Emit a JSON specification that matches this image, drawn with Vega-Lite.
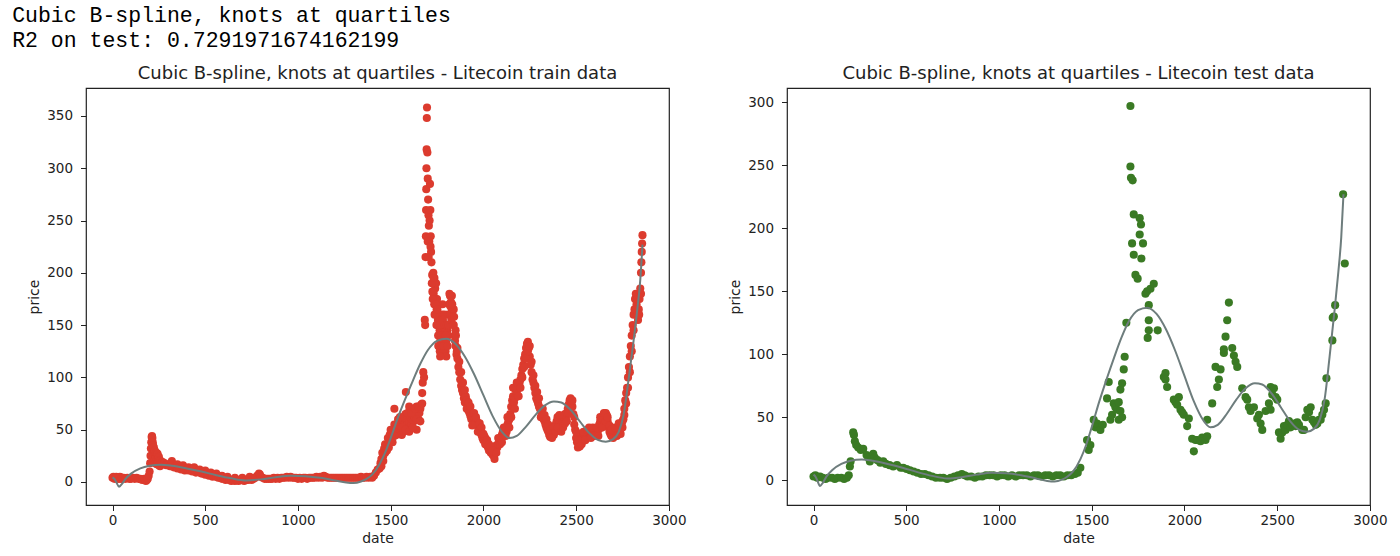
{
  "$schema": "https://vega.github.io/schema/vega-lite/v6.json",
  "padding": {"left": 12, "top": 4, "right": 5, "bottom": 5},
  "title": {
    "text": ["Cubic B-spline, knots at quartiles", "R2 on test: 0.7291971674162199"],
    "anchor": "start",
    "font": "Liberation Mono",
    "fontSize": 21.5,
    "fontWeight": "normal",
    "color": "black",
    "lineHeight": 25,
    "dx": -15,
    "offset": 13
  },
  "config": {
    "view": {"stroke": "#222222", "strokeWidth": 1.2},
    "font": "DejaVu Sans",
    "axis": {
      "domain": false, "grid": false,
      "tickColor": "#222222", "tickSize": 5.5,
      "labelFont": "DejaVu Sans", "labelFontSize": 13.5, "labelColor": "#222222",
      "titleFont": "DejaVu Sans", "titleFontSize": 14, "titleFontWeight": "normal", "titleColor": "#222222"
    },
    "axisY": {"labelPadding": 8, "titlePadding": 5},
    "axisX": {"labelPadding": 3, "format": "d"},
    "title": {"font": "DejaVu Sans", "fontSize": 18, "fontWeight": "normal", "color": "#222222", "offset": 5}
  },
  "datasets": {
    "train": [
      {"date":0,"price":4},{"date":5,"price":5},{"date":10,"price":3},{"date":15,"price":4},{"date":20,"price":5},{"date":25,"price":3},{"date":30,"price":4},{"date":35,"price":3},{"date":40,"price":5},{"date":45,"price":3},{"date":50,"price":4},{"date":55,"price":3},{"date":60,"price":4},{"date":70,"price":3},{"date":80,"price":4},{"date":90,"price":3},{"date":100,"price":3},{"date":110,"price":4},{"date":120,"price":3},{"date":130,"price":4},{"date":140,"price":3},{"date":150,"price":3},{"date":160,"price":2},{"date":170,"price":3},{"date":175,"price":2},{"date":180,"price":1},{"date":185,"price":2},{"date":190,"price":3},{"date":195,"price":6},
      {"date":200,"price":10},{"date":203,"price":18},{"date":205,"price":25},{"date":207,"price":32},{"date":209,"price":38},{"date":211,"price":43},{"date":213,"price":44},{"date":215,"price":42},{"date":217,"price":38},{"date":219,"price":35},{"date":221,"price":30},{"date":223,"price":33},{"date":225,"price":28},{"date":226,"price":20},{"date":228,"price":30},{"date":231,"price":26},{"date":232,"price":18},{"date":234,"price":24},{"date":237,"price":28},{"date":238,"price":17},{"date":240,"price":25},{"date":243,"price":27},{"date":244,"price":19},{"date":246,"price":22},{"date":250,"price":24},{"date":250,"price":16},{"date":255,"price":21},{"date":256,"price":15},{"date":260,"price":20},{"date":265,"price":18},{"date":270,"price":19},{"date":275,"price":17},{"date":280,"price":18},{"date":290,"price":16},{"date":300,"price":17},{"date":310,"price":15},{"date":320,"price":16},{"date":320,"price":20},{"date":330,"price":14},{"date":340,"price":15},{"date":350,"price":13},{"date":350,"price":17},{"date":360,"price":14},{"date":370,"price":12},{"date":380,"price":13},{"date":380,"price":16},{"date":390,"price":11},{"date":400,"price":12},{"date":410,"price":11},{"date":410,"price":14},{"date":420,"price":12},{"date":430,"price":10},{"date":440,"price":11},{"date":440,"price":14},{"date":450,"price":9},{"date":460,"price":10},{"date":470,"price":9},{"date":470,"price":12},{"date":480,"price":8},{"date":490,"price":9},{"date":500,"price":7},{"date":500,"price":11},{"date":510,"price":8},{"date":520,"price":6},{"date":530,"price":7},{"date":530,"price":9},{"date":540,"price":5},{"date":550,"price":6},{"date":560,"price":5},{"date":560,"price":8},{"date":570,"price":4},{"date":580,"price":4},{"date":590,"price":3},{"date":590,"price":6},{"date":600,"price":4},{"date":610,"price":2},{"date":620,"price":3},{"date":620,"price":5},{"date":630,"price":2},{"date":640,"price":1},{"date":650,"price":2},{"date":660,"price":1},{"date":660,"price":4},{"date":670,"price":2},{"date":680,"price":1},{"date":690,"price":2},{"date":700,"price":2},{"date":700,"price":4},{"date":710,"price":1},{"date":720,"price":2},{"date":730,"price":2},{"date":740,"price":3},{"date":740,"price":5},{"date":750,"price":2},{"date":760,"price":3},{"date":770,"price":4},{"date":780,"price":6},{"date":790,"price":8},{"date":795,"price":7},{"date":800,"price":5},{"date":810,"price":4},{"date":820,"price":3},{"date":830,"price":3},{"date":840,"price":3},{"date":850,"price":3},{"date":860,"price":3},{"date":870,"price":4},{"date":880,"price":3},{"date":890,"price":4},{"date":900,"price":3},{"date":910,"price":4},{"date":920,"price":4},{"date":930,"price":4},{"date":940,"price":5},{"date":950,"price":4},{"date":960,"price":5},{"date":970,"price":4},{"date":980,"price":4},{"date":990,"price":4},{"date":1000,"price":3},{"date":1010,"price":4},{"date":1020,"price":3},{"date":1030,"price":4},{"date":1040,"price":4},{"date":1050,"price":3},{"date":1060,"price":4},{"date":1070,"price":4},{"date":1080,"price":4},{"date":1090,"price":4},{"date":1100,"price":5},{"date":1110,"price":4},{"date":1120,"price":5},{"date":1130,"price":4},{"date":1140,"price":6},{"date":1150,"price":5},{"date":1160,"price":4},{"date":1170,"price":4},{"date":1180,"price":4},{"date":1190,"price":4},{"date":1200,"price":4},{"date":1210,"price":4},{"date":1220,"price":4},{"date":1230,"price":4},{"date":1240,"price":4},{"date":1250,"price":4},{"date":1260,"price":4},{"date":1270,"price":4},{"date":1280,"price":4},{"date":1290,"price":4},{"date":1300,"price":4},{"date":1310,"price":4},{"date":1320,"price":4},{"date":1330,"price":4},{"date":1340,"price":5},{"date":1350,"price":4},{"date":1360,"price":4},{"date":1370,"price":5},{"date":1380,"price":4},{"date":1390,"price":5},{"date":1400,"price":4},{"date":1410,"price":6},{"date":1420,"price":9},{"date":1430,"price":12},
      {"date":1440,"price":13},{"date":1445,"price":18},{"date":1450,"price":22},{"date":1455,"price":28},{"date":1460,"price":25},{"date":1465,"price":32},{"date":1470,"price":36},{"date":1475,"price":30},{"date":1480,"price":35},{"date":1485,"price":42},{"date":1490,"price":38},{"date":1495,"price":45},{"date":1500,"price":40},{"date":1505,"price":48},{"date":1510,"price":45},{"date":1515,"price":50},{"date":1520,"price":55},{"date":1520,"price":70},{"date":1525,"price":48},{"date":1530,"price":45},{"date":1535,"price":52},{"date":1540,"price":50},{"date":1545,"price":55},{"date":1550,"price":48},{"date":1555,"price":52},{"date":1560,"price":58},{"date":1560,"price":45},{"date":1565,"price":55},{"date":1570,"price":62},{"date":1575,"price":58},{"date":1580,"price":65},{"date":1582,"price":86},{"date":1585,"price":60},{"date":1590,"price":55},{"date":1595,"price":52},{"date":1600,"price":58},{"date":1600,"price":72},{"date":1605,"price":62},{"date":1610,"price":56},{"date":1615,"price":60},{"date":1620,"price":65},{"date":1625,"price":58},{"date":1630,"price":62},{"date":1635,"price":68},{"date":1640,"price":72},{"date":1640,"price":50},{"date":1645,"price":65},{"date":1650,"price":60},{"date":1655,"price":66},{"date":1660,"price":70},{"date":1665,"price":74},{"date":1670,"price":85},{"date":1673,"price":95},{"date":1676,"price":105},{"date":1680,"price":100},{"date":1684,"price":155},{"date":1686,"price":150},{"date":1688,"price":215},{"date":1690,"price":235},{"date":1691,"price":260},{"date":1692,"price":280},{"date":1693,"price":300},{"date":1694,"price":318},{"date":1695,"price":348},{"date":1696,"price":358},{"date":1698,"price":315},{"date":1700,"price":290},{"date":1702,"price":270},{"date":1704,"price":255},{"date":1706,"price":245},{"date":1708,"price":230},{"date":1710,"price":250},{"date":1712,"price":285},{"date":1714,"price":260},{"date":1716,"price":235},{"date":1718,"price":220},{"date":1720,"price":210},{"date":1724,"price":198},{"date":1728,"price":190},{"date":1732,"price":180},{"date":1736,"price":195},{"date":1740,"price":185},{"date":1744,"price":175},{"date":1748,"price":165},{"date":1752,"price":150},{"date":1756,"price":140},{"date":1760,"price":130},{"date":1764,"price":145},{"date":1768,"price":135},{"date":1772,"price":125},{"date":1776,"price":160},{"date":1780,"price":170},{"date":1784,"price":150},{"date":1788,"price":140},{"date":1792,"price":130},{"date":1796,"price":125},{"date":1800,"price":135},{"date":1805,"price":145},{"date":1810,"price":160},{"date":1815,"price":170},{"date":1820,"price":178},{"date":1825,"price":172},{"date":1830,"price":165},{"date":1835,"price":158},{"date":1840,"price":150},{"date":1845,"price":140},{"date":1850,"price":130},{"date":1855,"price":122},{"date":1860,"price":118},{"date":1865,"price":110},{"date":1870,"price":105},{"date":1875,"price":98},{"date":1880,"price":92},{"date":1885,"price":88},{"date":1890,"price":85},{"date":1895,"price":80},{"date":1900,"price":76},{"date":1905,"price":82},{"date":1910,"price":78},{"date":1915,"price":72},{"date":1920,"price":68},{"date":1925,"price":66},{"date":1930,"price":63},{"date":1935,"price":60},{"date":1940,"price":62},{"date":1945,"price":58},{"date":1950,"price":60},{"date":1955,"price":57},{"date":1960,"price":55},{"date":1965,"price":58},{"date":1970,"price":55},{"date":1975,"price":52},{"date":1980,"price":50},{"date":1985,"price":47},{"date":1990,"price":45},{"date":1995,"price":42},{"date":2000,"price":40},{"date":2005,"price":44},{"date":2010,"price":42},{"date":2015,"price":38},{"date":2020,"price":35},{"date":2025,"price":33},{"date":2030,"price":30},{"date":2035,"price":32},{"date":2040,"price":28},{"date":2045,"price":30},{"date":2050,"price":26},{"date":2055,"price":25},{"date":2060,"price":27},{"date":2065,"price":32},{"date":2070,"price":35},{"date":2075,"price":33},{"date":2080,"price":36},{"date":2085,"price":38},{"date":2090,"price":42},{"date":2095,"price":40},{"date":2100,"price":45},{"date":2105,"price":48},{"date":2110,"price":44},{"date":2115,"price":50},{"date":2120,"price":52},{"date":2125,"price":48},{"date":2130,"price":55},{"date":2135,"price":58},{"date":2140,"price":60},{"date":2145,"price":65},{"date":2150,"price":72},{"date":2155,"price":78},{"date":2160,"price":82},{"date":2165,"price":76},{"date":2170,"price":80},{"date":2175,"price":88},{"date":2180,"price":85},{"date":2185,"price":92},{"date":2190,"price":90},{"date":2195,"price":95},{"date":2200,"price":98},{"date":2205,"price":102},{"date":2210,"price":108},{"date":2215,"price":112},{"date":2220,"price":118},{"date":2225,"price":122},{"date":2230,"price":128},{"date":2235,"price":132},{"date":2240,"price":134},{"date":2245,"price":128},{"date":2250,"price":120},{"date":2255,"price":112},{"date":2260,"price":105},{"date":2265,"price":98},{"date":2270,"price":95},{"date":2275,"price":90},{"date":2280,"price":85},{"date":2285,"price":80},{"date":2290,"price":78},{"date":2295,"price":75},{"date":2300,"price":72},{"date":2305,"price":70},{"date":2310,"price":68},{"date":2315,"price":65},{"date":2320,"price":62},{"date":2325,"price":60},{"date":2330,"price":58},{"date":2335,"price":55},{"date":2340,"price":52},{"date":2345,"price":50},{"date":2350,"price":48},{"date":2355,"price":45},{"date":2360,"price":43},{"date":2365,"price":46},{"date":2370,"price":50},{"date":2375,"price":48},{"date":2380,"price":45},{"date":2385,"price":50},{"date":2390,"price":55},{"date":2395,"price":58},{"date":2400,"price":62},{"date":2405,"price":60},{"date":2410,"price":56},{"date":2415,"price":52},{"date":2420,"price":55},{"date":2425,"price":58},{"date":2430,"price":60},{"date":2435,"price":62},{"date":2440,"price":65},{"date":2445,"price":62},{"date":2450,"price":66},{"date":2455,"price":70},{"date":2460,"price":74},{"date":2465,"price":78},{"date":2470,"price":80},{"date":2475,"price":76},{"date":2480,"price":72},{"date":2485,"price":65},{"date":2490,"price":55},{"date":2495,"price":50},{"date":2500,"price":42},{"date":2505,"price":38},{"date":2510,"price":33},{"date":2515,"price":36},{"date":2520,"price":40},{"date":2525,"price":38},{"date":2530,"price":42},{"date":2535,"price":45},{"date":2540,"price":43},{"date":2545,"price":46},{"date":2550,"price":44},{"date":2555,"price":42},{"date":2560,"price":45},{"date":2565,"price":47},{"date":2570,"price":44},{"date":2575,"price":46},{"date":2580,"price":48},{"date":2585,"price":45},{"date":2590,"price":47},{"date":2595,"price":50},{"date":2600,"price":48},{"date":2605,"price":46},{"date":2610,"price":45},{"date":2615,"price":47},{"date":2620,"price":50},{"date":2625,"price":55},{"date":2630,"price":58},{"date":2635,"price":56},{"date":2640,"price":60},{"date":2645,"price":63},{"date":2650,"price":58},{"date":2655,"price":62},{"date":2660,"price":66},{"date":2665,"price":64},{"date":2670,"price":58},{"date":2675,"price":52},{"date":2680,"price":48},{"date":2685,"price":46},{"date":2690,"price":44},{"date":2695,"price":48},{"date":2700,"price":46},{"date":2705,"price":44},{"date":2710,"price":47},{"date":2715,"price":50},{"date":2720,"price":48},{"date":2725,"price":52},{"date":2730,"price":50},{"date":2735,"price":48},{"date":2740,"price":52},{"date":2745,"price":55},{"date":2750,"price":58},{"date":2755,"price":60},{"date":2760,"price":70},{"date":2765,"price":78},{"date":2770,"price":85},{"date":2775,"price":90},{"date":2780,"price":100},{"date":2785,"price":110},{"date":2790,"price":120},{"date":2795,"price":130},{"date":2800,"price":140},{"date":2805,"price":150},{"date":2810,"price":160},{"date":2815,"price":165},{"date":2818,"price":175},{"date":2822,"price":180},{"date":2826,"price":170},{"date":2830,"price":160},{"date":2834,"price":155},{"date":2838,"price":165},{"date":2842,"price":175},{"date":2846,"price":185},{"date":2850,"price":200},{"date":2852,"price":210},{"date":2854,"price":220},{"date":2856,"price":228},{"date":2858,"price":236},
      {"date":1450,"price":15},{"date":1460,"price":20},{"date":1470,"price":28},{"date":1480,"price":30},{"date":1490,"price":33},{"date":1500,"price":50},{"date":1510,"price":38},{"date":1520,"price":44},{"date":1530,"price":55},{"date":1540,"price":60},{"date":1550,"price":62},{"date":1560,"price":52},{"date":1570,"price":48},{"date":1580,"price":50},{"date":1590,"price":66},{"date":1600,"price":48},{"date":1610,"price":66},{"date":1620,"price":52},{"date":1630,"price":70},{"date":1640,"price":60},{"date":1650,"price":72},{"date":1660,"price":58},{"date":1670,"price":75},{"date":1700,"price":230},{"date":1705,"price":215},{"date":1715,"price":225},{"date":1725,"price":182},{"date":1730,"price":200},{"date":1735,"price":170},{"date":1745,"price":190},{"date":1750,"price":175},{"date":1755,"price":155},{"date":1765,"price":125},{"date":1770,"price":150},{"date":1775,"price":140},{"date":1785,"price":125},{"date":1790,"price":160},{"date":1795,"price":145},{"date":1800,"price":120},{"date":1810,"price":140},{"date":1820,"price":160},{"date":1830,"price":178},{"date":1840,"price":165},{"date":1850,"price":145},{"date":1860,"price":128},{"date":1870,"price":115},{"date":1880,"price":105},{"date":1890,"price":95},{"date":1900,"price":88},{"date":1910,"price":70},{"date":1920,"price":76},{"date":1930,"price":72},{"date":1940,"price":54},{"date":1950,"price":66},{"date":1960,"price":62},{"date":1970,"price":48},{"date":1980,"price":56},{"date":1990,"price":52},{"date":2000,"price":46},{"date":2010,"price":36},{"date":2020,"price":40},{"date":2030,"price":36},{"date":2040,"price":34},{"date":2050,"price":30},{"date":2060,"price":22},{"date":2070,"price":28},{"date":2080,"price":42},{"date":2090,"price":36},{"date":2100,"price":38},{"date":2110,"price":52},{"date":2120,"price":44},{"date":2130,"price":62},{"date":2140,"price":52},{"date":2150,"price":62},{"date":2160,"price":90},{"date":2170,"price":70},{"date":2180,"price":95},{"date":2190,"price":82},{"date":2200,"price":90},{"date":2210,"price":100},{"date":2220,"price":110},{"date":2230,"price":118},{"date":2240,"price":125},{"date":2250,"price":130},{"date":2260,"price":115},{"date":2270,"price":102},{"date":2280,"price":92},{"date":2290,"price":86},{"date":2300,"price":80},{"date":2310,"price":62},{"date":2320,"price":70},{"date":2330,"price":64},{"date":2340,"price":60},{"date":2350,"price":55},{"date":2360,"price":50},{"date":2370,"price":42},{"date":2380,"price":52},{"date":2390,"price":48},{"date":2400,"price":52},{"date":2410,"price":64},{"date":2420,"price":48},{"date":2430,"price":52},{"date":2440,"price":56},{"date":2450,"price":58},{"date":2460,"price":66},{"date":2470,"price":72},{"date":2480,"price":78},{"date":2490,"price":62},{"date":2500,"price":48},{"date":2510,"price":40},{"date":2520,"price":34},{"date":2530,"price":36},{"date":2540,"price":48},{"date":2550,"price":40},{"date":2560,"price":50},{"date":2570,"price":52},{"date":2580,"price":42},{"date":2590,"price":52},{"date":2600,"price":44},{"date":2610,"price":52},{"date":2620,"price":44},{"date":2630,"price":62},{"date":2640,"price":52},{"date":2650,"price":66},{"date":2660,"price":58},{"date":2670,"price":62},{"date":2680,"price":54},{"date":2690,"price":50},{"date":2700,"price":42},{"date":2710,"price":52},{"date":2720,"price":44},{"date":2730,"price":56},{"date":2740,"price":46},{"date":2750,"price":52},{"date":2760,"price":64},{"date":2770,"price":75},{"date":2780,"price":90},{"date":2790,"price":105},{"date":2800,"price":125},{"date":2810,"price":145},{"date":2820,"price":165},{"date":2830,"price":175},{"date":2840,"price":160},{"date":2850,"price":180},
      {"date":1722,"price":190},{"date":1727,"price":175},{"date":1732,"price":195},{"date":1737,"price":160},{"date":1742,"price":170},{"date":1747,"price":150},{"date":1752,"price":165},{"date":1757,"price":130},{"date":1762,"price":150},{"date":1767,"price":120},{"date":1772,"price":140},{"date":1777,"price":130},{"date":1782,"price":155},{"date":1787,"price":130},{"date":1792,"price":150},{"date":1797,"price":140},{"date":1802,"price":150},{"date":1807,"price":130},{"date":1812,"price":150},{"date":1817,"price":180},{"date":1822,"price":168},{"date":1827,"price":155},{"date":1832,"price":170},{"date":1837,"price":150},{"date":1842,"price":158},{"date":1847,"price":135},{"date":1852,"price":140},{"date":1857,"price":125}
    ],
    "test": [
      {"date":0,"price":3},{"date":10,"price":4},{"date":20,"price":2},{"date":35,"price":3},{"date":50,"price":2},{"date":65,"price":1},{"date":80,"price":2},{"date":100,"price":2},{"date":115,"price":1},{"date":130,"price":2},{"date":150,"price":2},{"date":165,"price":1},{"date":180,"price":2},{"date":190,"price":4},{"date":196,"price":11},{"date":200,"price":15},{"date":214,"price":38},{"date":218,"price":36},{"date":223,"price":31},{"date":230,"price":28},{"date":241,"price":26},{"date":255,"price":24},{"date":268,"price":25},{"date":286,"price":20},{"date":295,"price":18},{"date":304,"price":15},{"date":322,"price":21},{"date":330,"price":18},{"date":345,"price":16},{"date":360,"price":14},{"date":376,"price":15},{"date":390,"price":13},{"date":410,"price":12},{"date":430,"price":11},{"date":450,"price":12},{"date":470,"price":10},{"date":484,"price":10},{"date":502,"price":9},{"date":520,"price":8},{"date":540,"price":7},{"date":560,"price":6},{"date":580,"price":5},{"date":600,"price":5},{"date":620,"price":4},{"date":640,"price":3},{"date":660,"price":2},{"date":682,"price":2},{"date":700,"price":2},{"date":720,"price":1},{"date":740,"price":2},{"date":760,"price":3},{"date":780,"price":4},{"date":800,"price":5},{"date":815,"price":4},{"date":830,"price":3},{"date":850,"price":3},{"date":870,"price":2},{"date":890,"price":3},{"date":910,"price":3},{"date":930,"price":4},{"date":950,"price":4},{"date":970,"price":4},{"date":990,"price":3},{"date":1010,"price":4},{"date":1030,"price":4},{"date":1050,"price":3},{"date":1070,"price":4},{"date":1090,"price":3},{"date":1110,"price":4},{"date":1130,"price":4},{"date":1150,"price":4},{"date":1170,"price":3},{"date":1190,"price":4},{"date":1210,"price":4},{"date":1230,"price":3},{"date":1250,"price":4},{"date":1270,"price":4},{"date":1290,"price":3},{"date":1310,"price":4},{"date":1330,"price":4},{"date":1350,"price":3},{"date":1370,"price":4},{"date":1390,"price":4},{"date":1410,"price":5},{"date":1425,"price":6},{"date":1439,"price":10},
      {"date":1475,"price":32},{"date":1484,"price":24},{"date":1493,"price":28},{"date":1511,"price":48},{"date":1520,"price":42},{"date":1529,"price":45},{"date":1547,"price":40},{"date":1560,"price":44},{"date":1583,"price":65},{"date":1592,"price":78},{"date":1601,"price":48},{"date":1610,"price":52},{"date":1619,"price":61},{"date":1628,"price":58},{"date":1637,"price":56},{"date":1646,"price":62},{"date":1646,"price":48},{"date":1655,"price":72},{"date":1655,"price":55},{"date":1664,"price":77},{"date":1664,"price":50},{"date":1673,"price":88},{"date":1678,"price":98},{"date":1687,"price":125},{"date":1709,"price":297},{"date":1709,"price":249},{"date":1712,"price":240},{"date":1718,"price":188},{"date":1721,"price":238},{"date":1727,"price":211},{"date":1727,"price":179},{"date":1736,"price":163},{"date":1748,"price":160},{"date":1759,"price":208},{"date":1759,"price":195},{"date":1766,"price":203},{"date":1768,"price":176},{"date":1777,"price":188},{"date":1790,"price":148},{"date":1799,"price":150},{"date":1802,"price":113},{"date":1808,"price":139},{"date":1808,"price":127},{"date":1808,"price":119},{"date":1817,"price":152},{"date":1835,"price":156},{"date":1856,"price":119},{"date":1889,"price":82},{"date":1898,"price":85},{"date":1898,"price":80},{"date":1907,"price":74},{"date":1943,"price":64},{"date":1952,"price":62},{"date":1961,"price":60},{"date":1970,"price":66},{"date":1979,"price":56},{"date":1988,"price":54},{"date":1997,"price":52},{"date":2015,"price":43},{"date":2024,"price":49},{"date":2042,"price":33},{"date":2051,"price":23},{"date":2060,"price":32},{"date":2069,"price":32},{"date":2087,"price":31},{"date":2096,"price":34},{"date":2105,"price":33},{"date":2114,"price":32},{"date":2123,"price":35},{"date":2123,"price":48},{"date":2150,"price":61},{"date":2168,"price":90},{"date":2177,"price":74},{"date":2186,"price":80},{"date":2195,"price":88},{"date":2213,"price":101},{"date":2213,"price":104},{"date":2222,"price":114},{"date":2231,"price":127},{"date":2240,"price":141},{"date":2258,"price":105},{"date":2267,"price":99},{"date":2276,"price":94},{"date":2285,"price":90},{"date":2312,"price":73},{"date":2330,"price":66},{"date":2339,"price":64},{"date":2348,"price":58},{"date":2357,"price":55},{"date":2375,"price":58},{"date":2393,"price":49},{"date":2402,"price":52},{"date":2411,"price":45},{"date":2420,"price":40},{"date":2438,"price":55},{"date":2456,"price":61},{"date":2465,"price":74},{"date":2465,"price":56},{"date":2474,"price":68},{"date":2483,"price":73},{"date":2492,"price":66},{"date":2501,"price":64},{"date":2510,"price":38},{"date":2519,"price":33},{"date":2528,"price":38},{"date":2537,"price":43},{"date":2546,"price":40},{"date":2555,"price":44},{"date":2564,"price":47},{"date":2573,"price":42},{"date":2582,"price":44},{"date":2591,"price":45},{"date":2600,"price":43},{"date":2609,"price":46},{"date":2618,"price":44},{"date":2636,"price":40},{"date":2645,"price":40},{"date":2654,"price":50},{"date":2663,"price":56},{"date":2672,"price":54},{"date":2681,"price":58},{"date":2690,"price":48},{"date":2699,"price":46},{"date":2708,"price":44},{"date":2717,"price":45},{"date":2726,"price":48},{"date":2735,"price":48},{"date":2744,"price":52},{"date":2753,"price":56},{"date":2762,"price":61},{"date":2766,"price":81},{"date":2798,"price":111},{"date":2800,"price":129},{"date":2806,"price":130},{"date":2813,"price":139},{"date":2856,"price":227},{"date":2865,"price":172}
    ],
    "spline": [
      {"date":0,"price":4.5},{"date":10,"price":3},{"date":20,"price":0},{"date":35,"price":-4.5},{"date":50,"price":-2},{"date":70,"price":3},{"date":100,"price":8},{"date":150,"price":13},{"date":200,"price":15.5},{"date":260,"price":16.5},{"date":320,"price":15.5},{"date":400,"price":13},{"date":480,"price":10},{"date":560,"price":6.5},{"date":640,"price":3.5},{"date":720,"price":1.5},{"date":800,"price":2.5},{"date":880,"price":4.5},{"date":960,"price":6},{"date":1040,"price":5.5},{"date":1120,"price":4},{"date":1200,"price":1.5},{"date":1260,"price":-0.5},{"date":1300,"price":-1},{"date":1340,"price":0.5},{"date":1370,"price":3},{"date":1400,"price":7},{"date":1440,"price":17},{"date":1470,"price":28},{"date":1500,"price":42},{"date":1540,"price":62},{"date":1580,"price":80},{"date":1620,"price":97},{"date":1660,"price":113},{"date":1700,"price":126},{"date":1750,"price":135},{"date":1800,"price":137},{"date":1850,"price":132},{"date":1900,"price":120},{"date":1950,"price":103},{"date":2000,"price":83},{"date":2050,"price":63},{"date":2100,"price":48},{"date":2140,"price":42},{"date":2180,"price":44},{"date":2230,"price":53},{"date":2280,"price":64},{"date":2330,"price":73},{"date":2380,"price":77},{"date":2420,"price":76},{"date":2470,"price":69},{"date":2520,"price":58},{"date":2570,"price":47},{"date":2620,"price":40},{"date":2660,"price":38.5},{"date":2700,"price":41},{"date":2730,"price":48},{"date":2756,"price":64},{"date":2783,"price":98},{"date":2810,"price":135},{"date":2830,"price":165},{"date":2846,"price":193},{"date":2858,"price":227}
    ]
  },
  "bounds": "flush",
  "spacing": 118,
  "hconcat": [
    {
      "width": 583,
      "height": 417,
      "title": "Cubic B-spline, knots at quartiles - Litecoin train data",
      "layer": [
        {
          "data": {"name": "train"},
          "mark": {"type": "circle", "size": 66, "opacity": 1, "color": "#dc3b2e"},
          "encoding": {
            "x": {"field": "date", "type": "quantitative", "scale": {"domain": [-143, 3001], "nice": false, "zero": false}, "axis": {"values": [0, 500, 1000, 1500, 2000, 2500, 3000], "title": "date", "labelFlush": false}},
            "y": {"field": "price", "type": "quantitative", "scale": {"domain": [-22, 376.7], "nice": false, "zero": false}, "axis": {"values": [0, 50, 100, 150, 200, 250, 300, 350], "title": "price"}}
          }
        },
        {
          "data": {"name": "spline"},
          "mark": {"type": "line", "color": "#6e7d7d", "strokeWidth": 2, "interpolate": "monotone"},
          "encoding": {
            "x": {"field": "date", "type": "quantitative", "scale": {"domain": [-143, 3001], "nice": false, "zero": false}},
            "y": {"field": "price", "type": "quantitative", "scale": {"domain": [-22, 376.7], "nice": false, "zero": false}}
          }
        }
      ]
    },
    {
      "width": 583,
      "height": 417,
      "title": "Cubic B-spline, knots at quartiles - Litecoin test data",
      "layer": [
        {
          "data": {"name": "test"},
          "mark": {"type": "circle", "size": 66, "opacity": 1, "color": "#3a7a24"},
          "encoding": {
            "x": {"field": "date", "type": "quantitative", "scale": {"domain": [-143, 3001], "nice": false, "zero": false}, "axis": {"values": [0, 500, 1000, 1500, 2000, 2500, 3000], "title": "date", "labelFlush": false}},
            "y": {"field": "price", "type": "quantitative", "scale": {"domain": [-19.6, 311.3], "nice": false, "zero": false}, "axis": {"values": [0, 50, 100, 150, 200, 250, 300], "title": "price"}}
          }
        },
        {
          "data": {"name": "spline"},
          "mark": {"type": "line", "color": "#6e7d7d", "strokeWidth": 2, "interpolate": "monotone"},
          "encoding": {
            "x": {"field": "date", "type": "quantitative", "scale": {"domain": [-143, 3001], "nice": false, "zero": false}},
            "y": {"field": "price", "type": "quantitative", "scale": {"domain": [-19.6, 311.3], "nice": false, "zero": false}}
          }
        }
      ]
    }
  ]
}
